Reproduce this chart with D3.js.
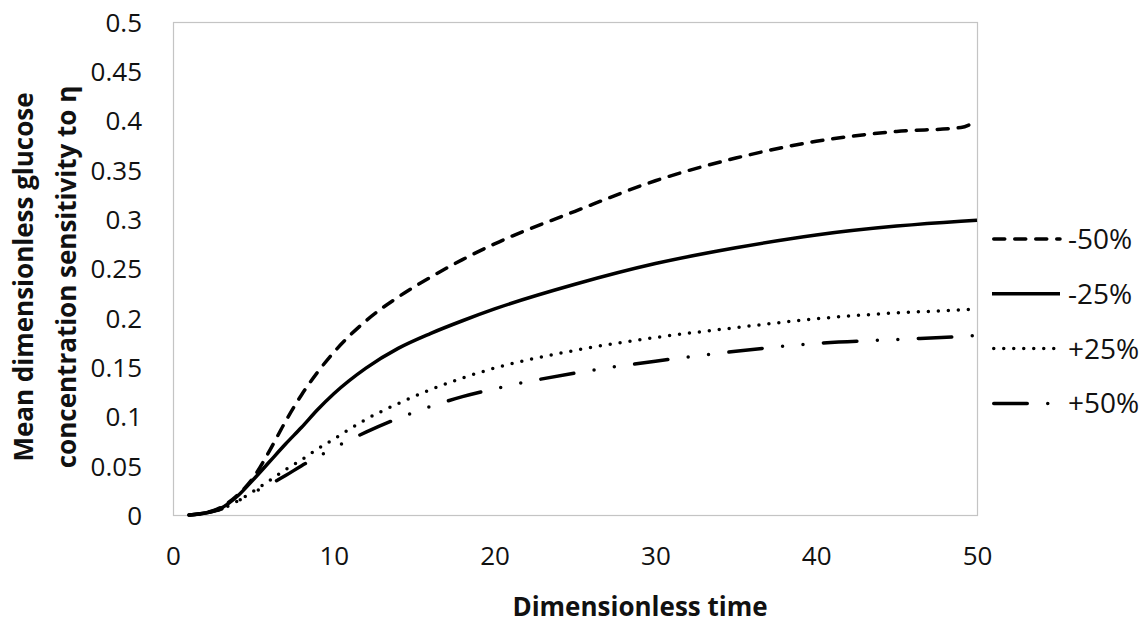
<!DOCTYPE html>
<html>
<head>
<meta charset="utf-8">
<script src="https://cdn.jsdelivr.net/npm/d3@7"></script>
<style>
  html, body { margin: 0; padding: 0; background: #fff; }
  svg { display: block; }
  text { font-family: "Open Sans", "DejaVu Sans", sans-serif; fill: #111; }
</style>
</head>
<body>
<svg id="chart" width="1144" height="623"></svg>
<script>
// Dimensionless time samples
const times = [1, 2, 3, 4, 5, 6, 7, 8, 9, 10, 12, 14, 16, 18, 20, 25, 30, 35, 40, 45, 49, 50];

// Mean dimensionless glucose concentration sensitivity to eta, per change in eta
const minus50 = [0, 0.002, 0.008, 0.02, 0.038, 0.065, 0.095, 0.122, 0.145, 0.165, 0.197, 0.221, 0.241, 0.259, 0.275, 0.308, 0.339, 0.362, 0.379, 0.389, 0.393, 0.400];
const minus25 = [0, 0.002, 0.007, 0.019, 0.036, 0.054, 0.072, 0.089, 0.107, 0.123, 0.149, 0.169, 0.184, 0.197, 0.209, 0.234, 0.255, 0.271, 0.284, 0.293, 0.298, 0.299];
const plus25  = [0, 0.002, 0.006, 0.014, 0.024, 0.035, 0.046, 0.056, 0.067, 0.077, 0.097, 0.113, 0.127, 0.139, 0.149, 0.167, 0.180, 0.190, 0.199, 0.205, 0.208, 0.209];
const plus50  = [0, 0.002, 0.006, 0.014, 0.023, 0.031, 0.040, 0.050, 0.059, 0.068, 0.084, 0.098, 0.110, 0.120, 0.128, 0.144, 0.156, 0.166, 0.174, 0.178, 0.181, 0.182];

const seriesNames = ["-50%", "-25%", "+25%", "+50%"];
const seriesValues = [minus50, minus25, plus25, plus50];

// Axis ticks
const xTicks = [0, 10, 20, 30, 40, 50];
const yTicks = [0, 0.05, 0.1, 0.15, 0.2, 0.25, 0.3, 0.35, 0.4, 0.45, 0.5];
const yTickLabels = ["0", "0.05", "0.1", "0.15", "0.2", "0.25", "0.3", "0.35", "0.4", "0.45", "0.5"];

const xTitle = "Dimensionless time";
const yTitleLines = ["Mean dimensionless glucose", "concentration sensitivity to \u03b7"];

// Line styles per series
const styles = [
  { dash: "11,10", cap: "round" },
  { dash: null, cap: "butt" },
  { dash: "0,10", cap: "round" },
  { dash: "33.5,20.5,0,20.5,0,20.5", cap: "round" }
];

const svg = d3.select("#chart");
const plot = { left: 173, right: 977, top: 22, bottom: 515 };

const x = d3.scaleLinear().domain([0, 50]).range([plot.left, plot.right]);
const y = d3.scaleLinear().domain([0, 0.5]).range([plot.bottom, plot.top]);

// Plot frame
svg.append("rect")
  .attr("x", plot.left + 0.5).attr("y", plot.top + 0.5)
  .attr("width", plot.right - plot.left).attr("height", plot.bottom - plot.top)
  .attr("fill", "none").attr("stroke", "#c4c4c4").attr("stroke-width", 1.2);

// Axes (labels only)
const yAxis = svg.append("g")
  .attr("transform", `translate(${plot.left - 31},0)`)
  .call(d3.axisLeft(y).tickValues(yTicks).tickSize(0).tickPadding(0)
    .tickFormat((d, i) => yTickLabels[i]));
yAxis.select(".domain").remove();
yAxis.selectAll("text").style("font-size", "26px").attr("fill", "#111")
  .style("font-family", "'Open Sans', sans-serif").attr("dy", "0.36em");

const xAxis = svg.append("g")
  .attr("transform", `translate(0,${plot.bottom + 32})`)
  .call(d3.axisBottom(x).tickValues(xTicks).tickSize(0).tickPadding(0)
    .tickFormat(d3.format("d")));
xAxis.select(".domain").remove();
xAxis.selectAll("text").style("font-size", "26px").attr("fill", "#111")
  .style("font-family", "'Open Sans', sans-serif").attr("dy", "0.71em");

// Series lines
const line = d3.line()
  .x((d, i) => x(times[i]))
  .y(d => y(d))
  .curve(d3.curveMonotoneX);

seriesValues.forEach((vals, k) => {
  svg.append("path")
    .datum(vals)
    .attr("d", line)
    .attr("fill", "none")
    .attr("stroke", "#000")
    .attr("stroke-width", 3.5)
    .attr("stroke-linecap", styles[k].cap)
    .attr("stroke-linejoin", "round")
    .attr("stroke-dasharray", styles[k].dash);
});

// Legend
const legend = svg.append("g").attr("transform", "translate(992,239)");
const legendEnds = [68, 68, 64, 60];
seriesNames.forEach((name, k) => {
  const g = legend.append("g").attr("transform", `translate(0,${k * 54.8})`);
  const x0 = styles[k].cap === "round" ? 1.75 : 0;
  g.append("line")
    .attr("x1", x0).attr("x2", legendEnds[k]).attr("y1", 0).attr("y2", 0)
    .attr("stroke", "#000").attr("stroke-width", 3.5)
    .attr("stroke-linecap", styles[k].cap)
    .attr("stroke-dasharray", styles[k].dash);
  g.append("text")
    .attr("x", 76).attr("y", 0).attr("dy", "0.36em")
    .style("font-size", "28px")
    .text(name);
});

// Axis titles
svg.append("text")
  .attr("x", 640).attr("y", 616)
  .attr("text-anchor", "middle")
  .style("font-size", "26px").style("font-weight", "bold")
  .text(xTitle);

const yTitle = svg.append("text")
  .attr("transform", "translate(33,277) rotate(-90)")
  .attr("text-anchor", "middle")
  .style("font-size", "26px").style("font-weight", "bold");
yTitleLines.forEach((t, i) => {
  yTitle.append("tspan").attr("x", 0).attr("y", i * 43).text(t);
});
</script>
</body>
</html>
